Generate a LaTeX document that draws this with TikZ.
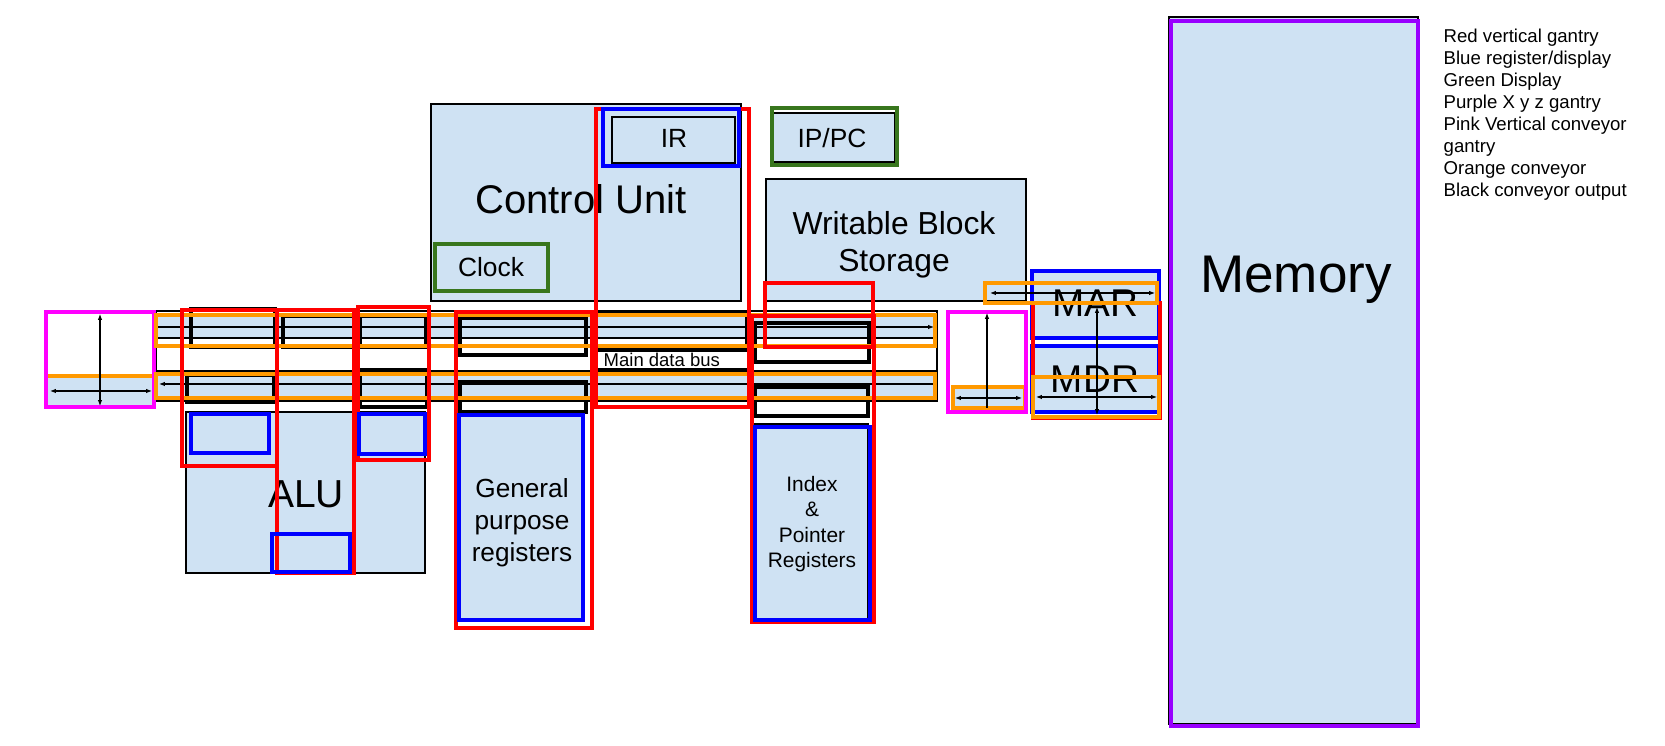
\documentclass[tikz,border=0pt]{standalone}
\usepackage{fontspec}
\setmainfont{Liberation Sans}
\usetikzlibrary{arrows.meta}
\definecolor{lb}{HTML}{CFE2F3}
\definecolor{gred}{HTML}{FF0000}
\definecolor{gblue}{HTML}{0000FF}
\definecolor{ggreen}{HTML}{38761D}
\definecolor{gorange}{HTML}{FF9900}
\definecolor{gpink}{HTML}{FF00FF}
\definecolor{gpurple}{HTML}{9900FF}
\newcommand{\fsz}[1]{\fontsize{#1pt}{#1pt}\selectfont}
\begin{document}
\begin{tikzpicture}[x=0.01cm,y=-0.01cm,
  panel/.style={fill=lb,draw=black,line width=0.3pt},
  lane/.style={fill=lb,draw=black,line width=0.3pt},
  busframe/.style={draw=black,line width=0.8pt},
  outbox/.style={draw=black,line width=1pt},
  conv/.style={draw=gorange,line width=1.1pt},
  convfill/.style={draw=gorange,fill=lb,line width=1.1pt},
  gantry/.style={draw=gred,line width=1.1pt},
  reg/.style={draw=gblue,line width=1.2pt},
  disp/.style={draw=ggreen,line width=1.2pt},
  vconv/.style={draw=gpink,line width=1pt},
  xyz/.style={draw=gpurple,line width=1.2pt},
  arr/.style={line width=0.3pt,-{Latex[length=1.7pt,width=1.3pt]}},
  darr/.style={line width=0.3pt,{Latex[length=1.7pt,width=1.3pt]}-{Latex[length=1.7pt,width=1.3pt]}},
  lbl/.style={inner sep=0pt,anchor=base},
  lbw/.style={inner sep=0pt,anchor=base west},
]
\useasboundingbox (0,0) rectangle (1665,746);

% ---------- panels ----------
\draw[panel] (431,104) rectangle (741,301);   % control unit
\draw[panel] (766,179) rectangle (1026,301);  % writable block storage
\draw[panel] (186,412) rectangle (425,573);   % ALU
\draw[panel] (1169,17) rectangle (1418,724);  % memory
\draw[panel] (612,117) rectangle (735,163);   % IR inner
\draw[panel] (772,113) rectangle (895,162);   % IP/PC inner
\draw[panel] (459,415) rectangle (583,620);   % GPR
\draw[panel] (755,424) rectangle (868,620);   % index
\draw[panel] (1032,271) rectangle (1159,338); % MAR
\draw[panel] (1032,346) rectangle (1159,412); % MDR

\node[lbl,font=\fsz{11.38}] (cu) at (581,214) {Control Unit};
\node[lbl,font=\fsz{7.5}] (clk) at (491,277) {Clock};
\node[lbl,font=\fsz{7.5}] (ir) at (674,148) {IR};
\node[lbl,font=\fsz{7.5}] (ippc) at (832,148) {IP/PC};
\node[lbl,font=\fsz{9.05}] (wbs1) at (894,235) {Writable Block};
\node[lbl,font=\fsz{9.05}] (wbs2) at (894,272) {Storage};
\node[lbl,font=\fsz{11.1}] (alu) at (306,508) {ALU};
\node[lbl,font=\fsz{7.45}] (gpr1) at (522,498) {General};
\node[lbl,font=\fsz{7.45}] (gpr2) at (522,530) {purpose};
\node[lbl,font=\fsz{7.45}] (gpr3) at (522,562) {registers};
\node[lbl,font=\fsz{5.95}] (ip1) at (812,492) {Index};
\node[lbl,font=\fsz{5.95}] (ip2) at (812,517) {\&};
\node[lbl,font=\fsz{5.95}] (ip3) at (812,543) {Pointer};
\node[lbl,font=\fsz{5.95}] (ip4) at (812,568) {Registers};
\node[lbl,font=\fsz{11}] (mar) at (1095,317) {MAR};
\node[lbl,font=\fsz{11}] (mdr) at (1095,393) {MDR};
\node[lbl,font=\fsz{15.08}] (mem) at (1296,293) {Memory};

% ---------- legend ----------
\node[lbw,font=\fsz{5.29}] (lg1) at (1443,43) {Red vertical gantry};
\node[lbw,font=\fsz{5.29}] (lg2) at (1443,65) {Blue register/display};
\node[lbw,font=\fsz{5.29}] (lg3) at (1443,87) {Green Display};
\node[lbw,font=\fsz{5.29}] (lg4) at (1443,109) {Purple X y z gantry};
\node[lbw,font=\fsz{5.29}] (lg5) at (1443,131) {Pink Vertical conveyor};
\node[lbw,font=\fsz{5.29}] (lg6) at (1443,153) {gantry};
\node[lbw,font=\fsz{5.29}] (lg7) at (1443,175) {Orange conveyor};
\node[lbw,font=\fsz{5.29}] (lg8) at (1443,197) {Black conveyor output};

% ---------- main data bus ----------
\draw[lane] (157,316) rectangle (937,338);
\draw[lane] (157,371) rectangle (937,397);
\draw[busframe] (156,311) rectangle (937,401);
\coordinate (t0) at (157,327); \coordinate (t1) at (934,327);
\coordinate (b0) at (934,384); \coordinate (b1) at (159,384);
\draw[arr] (t0) -- (t1);
\draw[arr] (b0) -- (b1);
\draw[line width=0.3pt] (598,369) -- (747,369);
\node[lbw,font=\fsz{5.26}] (bus) at (603,367) {Main data bus};

% ---------- pink vertical conveyors ----------
\draw[convfill] (46,376) rectangle (154,407);
\draw[vconv] (46,312) rectangle (154,407);
\coordinate (p1l) at (50,391); \coordinate (p1r) at (152,391);
\coordinate (p1t) at (100,314); \coordinate (p1b) at (100,406);
\draw[darr] (p1l) -- (p1r);
\draw[darr] (p1t) -- (p1b);

\draw[convfill] (953,387) rectangle (1025,408);
\draw[vconv] (948,312) rectangle (1026,412);
\coordinate (p2l) at (955,398); \coordinate (p2r) at (1022,398);
\coordinate (p2t) at (987,313); \coordinate (p2b) at (987,408);
\draw[darr] (p2l) -- (p2r);
\draw[arr] (p2b) -- (p2t);

% ---------- black conveyor outputs ----------
\draw[outbox] (191,309) rectangle (275,347);
\draw[outbox] (283,316) rectangle (354,347);
\draw[outbox] (360,316) rectangle (426,347);
\draw[outbox] (460,318) rectangle (586,355);
\draw[outbox] (594,313) rectangle (747,350);
\draw[outbox] (755,323) rectangle (869,362);
\draw[outbox] (187,375) rectangle (274,402);
\draw[outbox] (360,370) rectangle (427,407);
\draw[outbox] (460,382) rectangle (586,412);
\draw[outbox] (755,387) rectangle (868,416);

% ---------- orange conveyors on the bus ----------
\draw[conv] (156,315) rectangle (935,346);
\draw[conv] (156,374) rectangle (935,398);

% ---------- red vertical gantries ----------
\draw[gantry] (182,310) rectangle (277,466);
\draw[gantry] (277,310) rectangle (354,573);
\draw[gantry] (358,307) rectangle (429,460);
\draw[gantry] (456,312) rectangle (592,628);
\draw[gantry] (596,109) rectangle (749,407);
\draw[gantry] (752,316) rectangle (874,622);
\draw[gantry] (765,283) rectangle (873,347);

% ---------- blue registers ----------
\draw[reg] (191,414) rectangle (269,453);
\draw[reg] (272,534) rectangle (350,572);
\draw[reg] (359,414) rectangle (425,454);
\draw[reg] (459,415) rectangle (583,620);
\draw[reg] (755,427) rectangle (870,620);
\draw[reg] (603,109) rectangle (739,166);
\draw[reg] (1032,271) rectangle (1159,338);
\draw[reg] (1032,346) rectangle (1159,412);

% ---------- MAR / MDR gantry and conveyors ----------
\draw[gantry] (1033,303) rectangle (1160,418);
\draw[conv] (985,283) rectangle (1157,303);
\draw[conv] (1033,377) rectangle (1159,417);
\coordinate (o5l) at (990,293); \coordinate (o5r) at (1155,293);
\coordinate (o6l) at (1036,397); \coordinate (o6r) at (1157,397);
\coordinate (mt) at (1097,307); \coordinate (mb) at (1097,415);
\draw[darr] (o5l) -- (o5r);
\draw[darr] (o6l) -- (o6r);
\draw[darr] (mt) -- (mb);

% ---------- green displays ----------
\draw[disp] (435,244) rectangle (548,291);
\draw[disp] (772,108) rectangle (897,165);

% ---------- purple xyz gantry ----------
\draw[xyz] (1171,21) rectangle (1418,726);
\end{tikzpicture}
\end{document}
